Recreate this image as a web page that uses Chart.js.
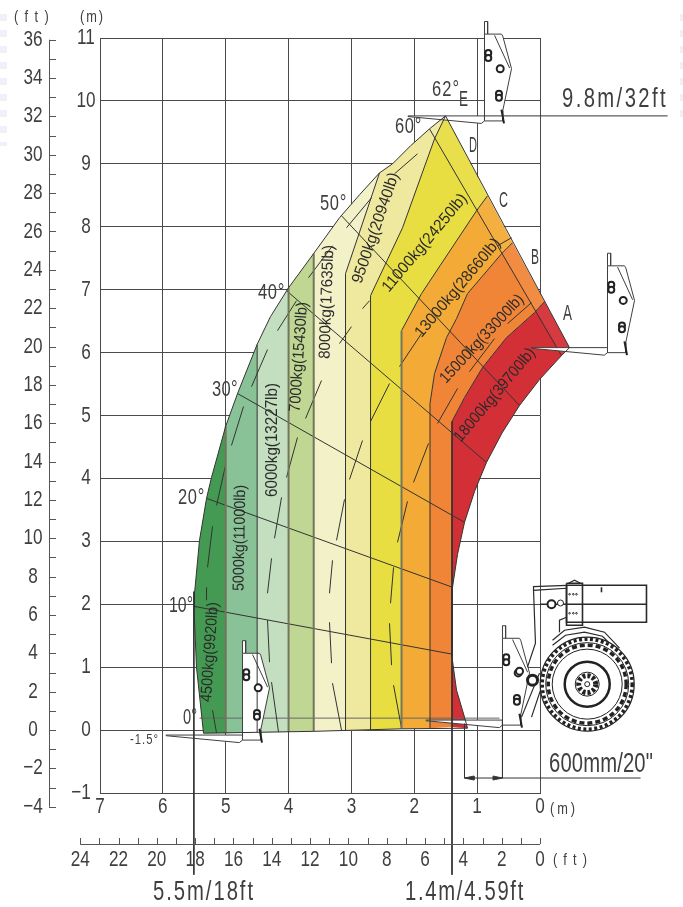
<!DOCTYPE html>
<html>
<head>
<meta charset="utf-8">
<script src="https://cdn.jsdelivr.net/npm/chart.js@4/dist/chart.umd.js"></script>
<style>
  html, body { margin: 0; padding: 0; background: #fff; overflow: hidden; }
  #wrap { position: relative; width: 683px; height: 907px; }
  canvas { position: absolute; left: 0; top: 0; }
  .stripe { position: absolute; width: 7px; top: 14px; height: 132px;
    background: repeating-linear-gradient(#eff0f8 0 7px, transparent 7px 16px); }
</style>
</head>
<body>
<div id="wrap">
  <div class="stripe" style="left:0"></div>
  <div class="stripe" style="left:680px;width:3px;height:105px"></div>
  <canvas id="c" width="683" height="907"></canvas>
</div>
<script>
// axis ticks (metres, feet)
const xTicks = [7, 6, 5, 4, 3, 2, 1, 0]
const yTicks = [11, 10, 9, 8, 7, 6, 5, 4, 3, 2, 1, 0, -1]
const xFeet = [24, 22, 20, 18, 16, 14, 12, 10, 8, 6, 4, 2, 0]
const yFeet = [36, 34, 32, 30, 28, 26, 24, 22, 20, 18, 16, 14, 12, 10, 8, 6, 4, 2, 0, -2, -4]

// load zones, [reach m, height m]
const zone4500 = [[5.353,-.05],[5.465,1],[5.504,1.905],[5.496,2.175],[5.417,3.016],[5.305,3.683],[5.226,4.016],[5,4.83],[5,-.05]]
const zone5000 = [[5,-.05],[5,4.83],[4.812,5.349],[4.5,6.13],[4.5,-.04]]
const zone6000 = [[4.5,-.04],[4.5,6.13],[4.288,6.571],[4,7.03],[4,-.03]]
const zone7000 = [[4,-.03],[4,7.03],[3.6,7.575],[3.6,-.02]]
const zone8000 = [[3.6,-.02],[3.6,7.575],[3.19,8.143],[2.871,8.508],[2.553,8.857],[3.094,7.254],[3.094,-.01]]
const zone9500 = [[3.094,-.01],[3.094,7.254],[2.553,8.857],[2.346,9],[2.06,9.286],[1.758,9.556],[1.503,9.762],[1.678,9.397],[2.187,7.984],[2.696,6.905],[2.696,0]]
const zone11000 = [[2.696,0],[2.696,6.905],[2.187,7.984],[1.678,9.397],[1.503,9.762],[.835,8.492],[1.01,8.254],[1.885,6.937],[2.203,6.349],[2.203,.02]]
const zone13000 = [[2.203,.02],[2.203,6.349],[1.885,6.937],[1.01,8.254],[.835,8.492],[.437,7.746],[.612,7.571],[1.153,6.937],[1.328,6.54],[1.487,6.238],[1.678,5.667],[1.75,5.19],[1.75,.03]]
const zone15000 = [[1.75,.03],[1.75,5.19],[1.678,5.667],[1.487,6.238],[1.328,6.54],[1.153,6.937],[.612,7.571],[.437,7.746],[-.072,6.81],[.088,6.635],[.533,6.238],[.915,5.762],[1.201,5.286],[1.4,4.905],[1.4,.05]]
const zone18000 = [[1.4,.05],[1.4,4.905],[1.201,5.286],[.915,5.762],[.533,6.238],[.088,6.635],[-.072,6.81],[-.469,6.079],[-.342,5.952],[.008,5.571],[.326,5.159],[.604,4.722],[.851,4.254],[1.041,3.794],[1.201,3.302],[1.312,2.794],[1.392,2.27],[1.4,2.016],[1.4,1.159],[1.328,.635],[1.201,.206],[1.153,.03]]
const boomStrip = [[1.758,9.556],[1.503,9.762],[-.469,6.079],[-.342,5.952]]

// outline of the whole envelope
const envelope = [[5.353,-.05],[5.465,1],[5.504,1.905],[5.496,2.175],[5.417,3.016],[5.305,3.683],[5.226,4.016],[5,4.83],[4.812,5.349],[4.5,6.13],[4.288,6.571],[4,7.03],[3.6,7.575],[3.19,8.143],[2.871,8.508],[2.553,8.857],[2.346,9],[2.06,9.286],[1.758,9.556],[1.503,9.762],[-.469,6.079],[-.342,5.952],[.008,5.571],[.326,5.159],[.604,4.722],[.851,4.254],[1.041,3.794],[1.201,3.302],[1.312,2.794],[1.392,2.27],[1.4,2.016],[1.4,1.159],[1.328,.635],[1.201,.206],[1.153,.03],[2.203,.02],[3.6,-.02],[5.353,-.05]]

// zone dividers
const heavyEdges = [
  [[5,-.05],[5,4.83]],
  [[4,-.03],[4,7.03]],
  [[3.6,-.02],[3.6,7.575]],
  [[2.203,.02],[2.203,6.349]]
]
const thinEdges = [
  [[4.5,-.04],[4.5,6.13]],
  [[3.094,-.01],[3.094,7.254],[2.553,8.857]],
  [[2.696,0],[2.696,6.905],[2.187,7.984],[1.678,9.397],[1.503,9.762]],
  [[2.203,6.349],[1.885,6.937],[1.01,8.254],[.835,8.492]],
  [[1.75,.03],[1.75,5.19],[1.678,5.667],[1.487,6.238],[1.328,6.54],[1.153,6.937],[.612,7.571],[.437,7.746]],
  [[1.4,4.905],[1.201,5.286],[.915,5.762],[.533,6.238],[.088,6.635],[-.072,6.81]]
]

// tilt angle lines
const angleLines = [
  [[5.417,.19],[.644,.19]],
  [[5.512,1.968],[1.392,1.206]],
  [[5.305,3.683],[1.392,2.27]],
  [[4.812,5.349],[1.201,3.302]],
  [[4.033,6.984],[.851,4.254]],
  [[3.158,8.175],[.326,5.159]],
  [[1.758,9.556],[-.342,5.952]]
]

// load centre dashes: x1, y1, x2, y2
const dashOuter = [[5.146,-.048,5.21,.317],[5.305,2.063,5.305,2.27],[5.289,2.587,5.21,3.238],[5.146,3.571,5.003,4.206],[4.908,4.524,4.717,5.143],[4.589,5.46,4.335,6.048],[4.176,6.349,3.874,6.825],[3.683,7.19,3.301,7.698],[3.078,7.984,2.681,8.46],[2.315,8.841,1.949,9.159]]
const dash11000 = [[4.16,-.032,4.271,.762],[4.303,1.079,4.335,1.746],[4.335,2.175,4.271,2.73],[4.224,3.048,4.112,3.698],[4.033,4.016,3.858,4.651],[3.73,4.952,3.476,5.556],[3.19,6.143,2.999,6.413],[2.824,6.698,2.712,6.825]]
const dash13000 = [[3.158,0,3.301,.746],[3.317,1.063,3.349,1.714],[3.349,2.175,3.301,2.698],[3.237,3.016,3.11,3.667],[3.03,3.984,2.824,4.603],[2.696,4.905,2.394,5.508],[2.235,5.778,1.885,6.302],[.676,7.698,.453,7.825]]
const dash15000 = [[2.203,.032,2.33,.714],[2.362,1.032,2.394,1.698],[2.378,2.016,2.33,2.587],[2.267,2.984,2.108,3.635],[2.012,3.937,1.774,4.556],[1.631,4.873,1.312,5.429],[1.122,5.698,.724,6.222],[.517,6.46,.135,6.794]]

// dimension lines
const dimLines = [
  [[5.507,2.2],[5.507,-2.3]],
  [[1.4,4.905],[1.4,-2.3]],
  [[.883,9.762],[-2.03,9.762]],
  [[1.201,.1],[1.201,-.762]],
  [[.597,.159],[.597,-.762]],
  [[1.201,-.762],[-1.6,-.762]]
]
const dimArrows = [[[1.201,-.762],[1.05,-.73],[1.05,-.794],[1.201,-.762]],[[.748,-.73],[.597,-.762],[.748,-.794],[.748,-.73]]]

// carriage + fork drawing, offsets from the heel in m (+x is away from the fork)
const carriageHeels = [[.883,9.762],[-1.074,6.079],[4.733,-.079],[.597,.159]]
const carriagePlate = [[0,0],[0,1.3],[.27,1.3],[.29,1.27],[.43,.75],[.29,.08],[.29,-.08],[0,-.08],[0,0]]
const carriageStub = [[0,1.3],[0,1.5],[.05,1.5],[.05,1.3]]
const carriageFork = [[-1.22,0],[0,0],[0,-.08],[-.05,-.12],[-1.22,-.01]]
const carriageRib = [[.16,1.28],[.4,.76]]
const carriagePin = [[.27,.1],[.31,-.12]]
const carriageHoles = [[.06,1],[.06,.92],[.25,.75],[.23,.35],[.23,.29]]

// boom, frame, fender
const machineLines = [
  [[-.422,2.302],[-1.694,2.302],[-1.694,1.714],[-.422,1.714],[-.422,2.302]],
  [[-1.694,2.127],[-1.042,2.127],[-.978,2.19],[-.978,2.27]],
  [[0,2],[-1.694,2]],
  [[-.422,2.333],[-.676,2.333],[-.676,1.667],[-.422,1.667],[-.422,2.333]],
  [[-.453,2.333],[-.549,2.381],[-.644,2.333]],
  [[.199,1],[.072,1.381],[.103,2.222],[-.422,2.254]],
  [[.103,2.222],[.103,2.28],[-.422,2.3]],
  [[-.31,1.556],[-.31,1.746],[-.422,1.794]],
  [[-.199,1.429],[-.39,1.587],[-.708,1.635],[-1.026,1.556],[-1.265,1.302]],
  [[-.199,1.349],[-.406,1.508],[-.708,1.556],[-.994,1.492],[-1.217,1.27]],
  [[.294,.206],[.008,.905]],
  [[.135,.206],[-.008,.635]]
]
const wheelCentre = [-.751, .73]
const pivots = [[.119,.794,5,3],[.326,.937,3.5,2],[-.183,2,4,2],[-.326,2.02,3,1]]
const bracketDots = [[-.47,2.159],[-.53,2.159],[-.58,2.159],[-.47,1.857],[-.53,1.857],[-.58,1.857]]

// texts: text, centre x, centre y, angle, length
const capacityLabels = [
  ['4500kg(9920lb)', 210, 652, -86, 100],
  ['5000kg(11000lb)', 240, 538, -89, 106],
  ['6000kg(13227lb)', 273, 440, -90, 114],
  ['7000kg(15430lb)', 299, 357, -86, 110],
  ['8000kg(17635lb)', 327, 302, -88, 114],
  ['9500kg(20940lb)', 376, 228, -71, 116],
  ['11000kg(24250lb)', 425, 243, -50, 123],
  ['13000kg(28660lb)', 458, 288, -50, 124],
  ['15000kg(33000lb)', 482, 339, -47, 115],
  ['18000kg(39700lb)', 495, 395, -50, 117]
]
// text, left, centre y, font size, width
const plainLabels = [
  ['(ft)', 14, 17, 17, 41], ['(m)', 80, 17, 17, 25],
  ['62°', 432, 90, 22, 28], ['E', 459, 100, 22, 9], ['60°', 395, 127, 22, 27], ['D', 469, 146, 22, 8],
  ['C', 499, 201, 22, 9], ['B', 531, 258, 22, 8], ['A', 563, 314, 22, 9],
  ['50°', 320, 204, 22, 27], ['40°', 258, 293, 22, 27], ['30°', 212, 390, 22, 26], ['20°', 178, 498, 22, 27],
  ['10°', 169, 606, 22, 24], ['0°', 183, 718, 22, 14], ['-1.5°', 130, 740, 15, 29],
  ['9.8m/32ft', 562, 100, 27, 106], ['600mm/20"', 549, 765, 27, 104],
  ['5.5m/18ft', 153, 893, 27, 102], ['1.4m/4.59ft', 405, 893, 27, 120],
  ['(m)', 550, 809, 17, 28], ['(ft)', 553, 860, 17, 40]
]

const FONT = '"Liberation Sans", sans-serif'
const INK = '#3f3f3f'
const TICK_SQUEEZE = .78

const pts = arr => arr.map(p => ({ x: p[0], y: p[1] }))
const dashes = arr => {
  const out = []
  arr.forEach(d => {
    out.push({ x: d[0], y: d[1] }, { x: d[2], y: d[3] }, { x: NaN, y: NaN })
  })
  return out
}
const atHeel = (heel, offs) => pts(offs.map(o => [heel[0] - o[0], heel[1] + o[1]]))

function zone(arr, color) {
  return { data: pts(arr), showLine: true, fill: 'shape', backgroundColor: color, borderWidth: 0, clip: false, order: 50 }
}
function line(data, color, width, order) {
  return { data: data, showLine: true, fill: false, borderColor: color, borderWidth: width, clip: false, order: order }
}
function filled(data, order, color) {
  return { data: data, showLine: true, fill: 'shape', backgroundColor: color || '#fff', borderColor: INK, borderWidth: 1, clip: false, order: order }
}

const datasets = [
  zone(zone4500, '#459a53'), zone(zone5000, '#8ac297'), zone(zone6000, '#c4dfbf'),
  zone(zone7000, '#bfd793'), zone(zone8000, '#f3f1c8'), zone(zone9500, '#efe99f'),
  zone(zone11000, '#e8de41'), zone(zone13000, '#f4aa36'), zone(zone15000, '#f18537'),
  zone(zone18000, '#d32f36')
]
datasets.push({ data: pts(boomStrip), showLine: true, fill: 'shape', backgroundColor: 'rgba(255,255,255,.06)', borderWidth: 0, clip: false, order: 45 })
angleLines.forEach((l, i) => datasets.push(line(pts(l), i === 0 ? '#666' : '#333', 1, 40)))
;[dashOuter, dash11000, dash13000, dash15000].forEach(d => datasets.push(line(dashes(d), '#333', 1, 38)))
carriageHeels.forEach(h => {
  datasets.push(filled(atHeel(h, carriagePlate), 30))
  datasets.push(filled(atHeel(h, carriageStub), 30))
  datasets.push(filled(atHeel(h, carriageFork), 29))
  datasets.push(line(atHeel(h, carriageRib), INK, 1, 28))
  datasets.push(line(atHeel(h, carriagePin), '#222', 2, 28))
})
heavyEdges.forEach(l => datasets.push(line(pts(l), '#74755e', 2, 20)))
thinEdges.forEach(l => datasets.push(line(pts(l), '#333', 1, 20)))
datasets.push(line(pts(envelope), '#333', 1, 19))
dimLines.forEach(l => datasets.push(line(pts(l), '#333', 1, 15)))
dimArrows.forEach(l => datasets.push(filled(pts(l), 15, '#333')))
machineLines.forEach((l, i) => datasets.push(line(pts(l), '#2a2a2a', i < 4 ? 1.6 : 1.2, 12)))

// filler clips to the chart area, the red tip and the carriages stick out of it
const openArea = {
  id: 'openArea',
  beforeDatasetsDraw(chart) {
    chart._keepArea = chart.chartArea
    chart.chartArea = { left: 0, top: 0, right: chart.width, bottom: chart.height, width: chart.width, height: chart.height }
  },
  afterDatasetsDraw(chart) {
    chart.chartArea = chart._keepArea
  }
}

const machineRings = {
  id: 'machineRings',
  afterDatasetsDraw(chart) {
    const { ctx, scales: { x, y } } = chart
    const ring = (mx, my, r, w, dash, fill) => {
      ctx.save()
      ctx.beginPath()
      ctx.arc(x.getPixelForValue(mx), y.getPixelForValue(my), r, 0, Math.PI * 2)
      if (fill) { ctx.fillStyle = fill; ctx.fill() }
      ctx.setLineDash(dash || [])
      ctx.lineWidth = w
      ctx.strokeStyle = '#222'
      ctx.stroke()
      ctx.restore()
    }
    carriageHeels.forEach(h => {
      carriageHoles.forEach((o, i) => ring(h[0] - o[0], h[1] + o[1], i === 2 ? 3.5 : 3, 2, null, '#fff'))
    })
    const [wx, wy] = wheelCentre
    ring(wx, wy, 47, 1.2, null, '#fff')
    ring(wx, wy, 45, 3.5, [3, 2.5])
    ring(wx, wy, 39, 3.5, [5, 3])
    ring(wx, wy, 41.5, 1)
    ring(wx, wy, 35, 1)
    ring(wx, wy, 22.5, 2.5)
    ring(wx, wy, 12, 1)
    ring(wx, wy, 8.5, 5, [3, 2])
    ring(wx, wy, 2.5, 1)
    pivots.forEach(p => ring(p[0], p[1], p[2], p[3], null, '#fff'))
    bracketDots.forEach(p => ring(p[0], p[1], .8, 1))
  }
}

// narrow CAD lettering: real text, squeezed sideways
function squeezed(ctx, text, x, y, size, sx, align, spacing) {
  ctx.save()
  ctx.font = size + 'px ' + FONT
  ctx.letterSpacing = (spacing || 0) + 'px'
  ctx.textAlign = align
  ctx.textBaseline = 'middle'
  ctx.translate(x, y)
  ctx.scale(sx, 1)
  ctx.fillText(text, 0, 0)
  ctx.restore()
}

// ft scales run past the m axes, so they are drawn off the m scales
const axisTexts = {
  id: 'axisTexts',
  afterDraw(chart) {
    const { ctx, scales: { x, y } } = chart
    const FT = 0.3048
    const xAt = 49, yAt = 844
    ctx.save()
    ctx.strokeStyle = '#555'
    ctx.lineWidth = 1
    ctx.beginPath()
    ctx.moveTo(xAt + .5, y.getPixelForValue(36 * FT))
    ctx.lineTo(xAt + .5, y.getPixelForValue(-4 * FT))
    for (let f = -4; f <= 36; f++) {
      const py = Math.round(y.getPixelForValue(f * FT)) + .5
      ctx.moveTo(xAt, py)
      ctx.lineTo(xAt + 7, py)
    }
    ctx.moveTo(x.getPixelForValue(24 * FT), yAt + .5)
    ctx.lineTo(x.getPixelForValue(0), yAt + .5)
    for (let f = 0; f <= 24; f++) {
      const px = Math.round(x.getPixelForValue(f * FT)) + .5
      ctx.moveTo(px, yAt - 6)
      ctx.lineTo(px, yAt)
    }
    ctx.stroke()
    ctx.fillStyle = INK
    const minus = v => String(v).replace('-', '−')
    yFeet.forEach(f => squeezed(ctx, minus(f), 33, y.getPixelForValue(f * FT), 22, TICK_SQUEEZE, 'center'))
    xFeet.forEach(f => squeezed(ctx, String(f), x.getPixelForValue(f * FT), 860, 22, TICK_SQUEEZE, 'center'))
    yTicks.forEach(v => squeezed(ctx, minus(v), v < 0 ? 81 : 86, y.getPixelForValue(v), 22, TICK_SQUEEZE, 'center'))
    xTicks.forEach(v => squeezed(ctx, String(v), x.getPixelForValue(v), 807, 22, TICK_SQUEEZE, 'center'))
    ctx.restore()
  }
}

const chartTexts = {
  id: 'chartTexts',
  afterDraw(chart) {
    const ctx = chart.ctx
    ctx.save()
    capacityLabels.forEach(l => {
      ctx.save()
      ctx.fillStyle = '#2b2b2b'
      ctx.font = '16px ' + FONT
      ctx.letterSpacing = '0px'
      const sx = l[4] / ctx.measureText(l[0]).width
      ctx.translate(l[1], l[2])
      ctx.rotate(l[3] * Math.PI / 180)
      squeezed(ctx, l[0], 0, 0, 16, sx, 'center')
      ctx.restore()
    })
    ctx.fillStyle = INK
    plainLabels.forEach(l => {
      ctx.font = l[3] + 'px ' + FONT
      ctx.letterSpacing = '0px'
      const w = ctx.measureText(l[0]).width
      // glyphs stay narrow, what is left of the width goes between the letters
      let sx = .75
      let spacing = (l[4] / sx - w) / l[0].length
      if (spacing < 0 || l[0].length === 1) { sx = l[4] / w; spacing = 0 }
      squeezed(ctx, l[0], l[1], l[2], l[3], sx, 'left', spacing)
    })
    ctx.restore()
  }
}

new Chart(document.getElementById('c'), {
  type: 'scatter',
  data: { datasets: datasets },
  plugins: [openArea, machineRings, axisTexts, chartTexts],
  options: {
    responsive: false,
    animation: false,
    layout: { padding: { left: 40, top: 38, right: 143, bottom: 64 } },
    elements: { point: { radius: 0, hoverRadius: 0 }, line: { tension: 0 } },
    plugins: { legend: { display: false }, tooltip: { enabled: false } },
    scales: {
      x: {
        type: 'linear', reverse: true, min: 0, max: 7,
        afterBuildTicks: s => { s.ticks = xTicks.map(v => ({ value: v })) },
        afterFit: s => { s.height = 50 },
        grid: { color: '#4a4a4a', lineWidth: 1, drawTicks: false },
        border: { color: '#4a4a4a' },
        ticks: { display: false }
      },
      y: {
        type: 'linear', min: -1, max: 11,
        afterBuildTicks: s => { s.ticks = yTicks.map(v => ({ value: v })) },
        afterFit: s => { s.width = 60 },
        grid: { color: '#4a4a4a', lineWidth: 1, drawTicks: false },
        border: { color: '#4a4a4a' },
        ticks: { display: false }
      }
    }
  }
})
</script>
</body>
</html>
